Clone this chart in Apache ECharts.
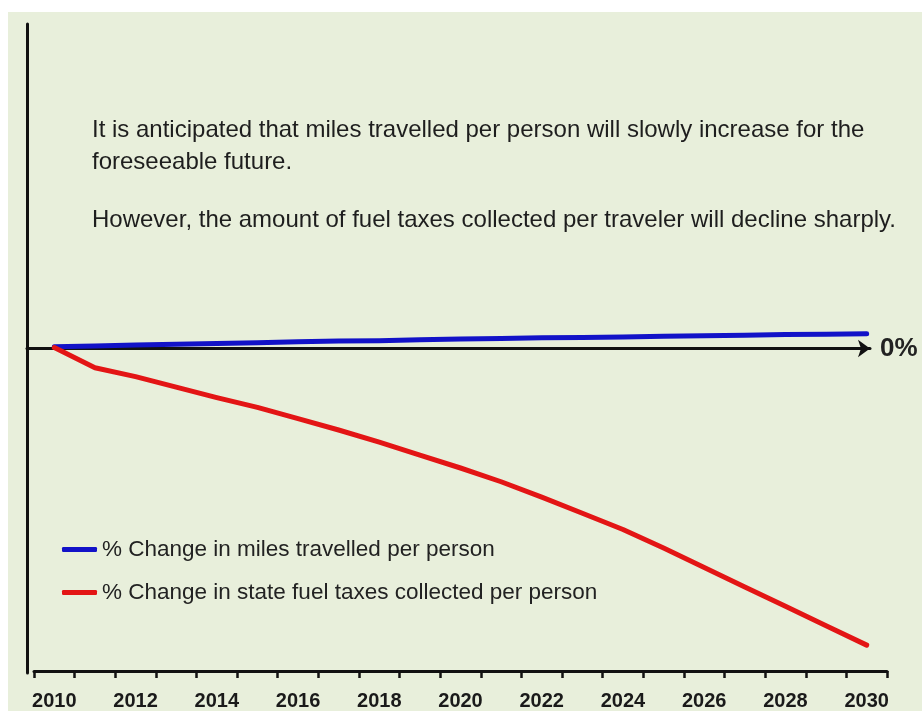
<!DOCTYPE html>
<html>
<head>
<meta charset="utf-8">
<script src="https://cdn.jsdelivr.net/npm/echarts@6/dist/echarts.min.js"></script>
<style>
  html, body { margin: 0; padding: 0; background: #ffffff; }
  #chart { position: absolute; left: 8px; top: 12px; width: 914px; height: 699px; }
</style>
</head>
<body>
<div id="chart"></div>
<script>
// ---- data ----
const years = ['2010','2011','2012','2013','2014','2015','2016','2017','2018','2019','2020',
               '2021','2022','2023','2024','2025','2026','2027','2028','2029','2030'];
const milesChange = [0.1, 0.2, 0.3, 0.4, 0.5, 0.6, 0.7, 0.8, 0.85, 0.95, 1.05,
                     1.1, 1.2, 1.25, 1.3, 1.4, 1.45, 1.5, 1.6, 1.65, 1.7];
const fuelTaxChange = [0, -2.5, -3.6, -4.9, -6.2, -7.4, -8.8, -10.2, -11.7, -13.3, -14.9,
                       -16.6, -18.5, -20.5, -22.5, -24.8, -27.2, -29.6, -32.0, -34.4, -36.8];
const seriesNames = ['% Change in miles travelled per person',
                     '% Change in state fuel taxes collected per person'];
const noteLines1 = ['It is anticipated that miles travelled per person will slowly increase for the',
                    'foreseeable future.'];
const noteLine2 = 'However, the amount of fuel taxes collected per traveler will decline sharply.';
const zeroLabel = '0%';

const FONT = '"Liberation Sans", Arial, sans-serif';
const chart = echarts.init(document.getElementById('chart'));
chart.setOption({
  backgroundColor: '#e8efdb',
  animation: false,
  title: [
    { text: noteLines1.join('\n'), left: 84, top: 102, padding: 0,
      textStyle: { fontFamily: FONT, fontSize: 24, fontWeight: 'normal', color: '#1e1e1e', lineHeight: 32 } },
    { text: noteLine2, left: 84, top: 192, padding: 0,
      textStyle: { fontFamily: FONT, fontSize: 24, fontWeight: 'normal', color: '#1e1e1e', lineHeight: 32 } }
  ],
  legend: {
    orient: 'vertical', left: 54, top: 526, itemGap: 20, padding: 0,
    icon: 'roundRect', itemWidth: 35, itemHeight: 5,
    textStyle: { fontFamily: FONT, fontSize: 22.5, color: '#222' },
    data: seriesNames
  },
  grid: [
    { left: 26, right: 35, top: 12, bottom: 38 },   // data grid
    { left: 19, right: 52, top: 12, bottom: 38 }    // frame grid: y line + zero arrow
  ],
  xAxis: [
    { type: 'category', gridIndex: 0, data: years, boundaryGap: true, position: 'bottom',
      axisLine: { onZero: false, lineStyle: { color: '#111', width: 3 } },
      axisTick: { show: true, interval: 0, length: 7, lineStyle: { color: '#111', width: 2.5 } },
      axisLabel: { interval: 1, margin: 20, fontFamily: FONT, fontSize: 20, fontWeight: 'bold', color: '#1a1a1a' },
      splitLine: { show: false } },
    { type: 'value', gridIndex: 1, min: 0, max: 1,
      axisLine: { show: true, onZero: true, symbol: ['none', 'arrow'], symbolSize: [13, 12],
                  lineStyle: { color: '#111', width: 3 } },
      axisTick: { show: false }, axisLabel: { show: false }, splitLine: { show: false },
      name: zeroLabel, nameLocation: 'end', nameGap: 10,
      nameTextStyle: { fontFamily: FONT, fontSize: 26, fontWeight: 'bold', color: '#222', verticalAlign: 'middle' } }
  ],
  yAxis: [
    { type: 'value', gridIndex: 0, min: -40, max: 40, show: false },
    { type: 'value', gridIndex: 1, min: -40, max: 40,
      axisLine: { show: true, onZero: false, lineStyle: { color: '#111', width: 3 } },
      axisTick: { show: false }, axisLabel: { show: false }, splitLine: { show: false } }
  ],
  series: [
    { name: seriesNames[0], type: 'line', xAxisIndex: 0, yAxisIndex: 0, data: milesChange,
      showSymbol: false, symbol: 'none', color: '#1212c8',
      lineStyle: { width: 5, color: '#1212c8', cap: 'round', join: 'round' } },
    { name: seriesNames[1], type: 'line', xAxisIndex: 0, yAxisIndex: 0, data: fuelTaxChange,
      showSymbol: false, symbol: 'none', color: '#e31515',
      lineStyle: { width: 5, color: '#e31515', cap: 'round', join: 'round' } }
  ]
});
</script>
</body>
</html>
